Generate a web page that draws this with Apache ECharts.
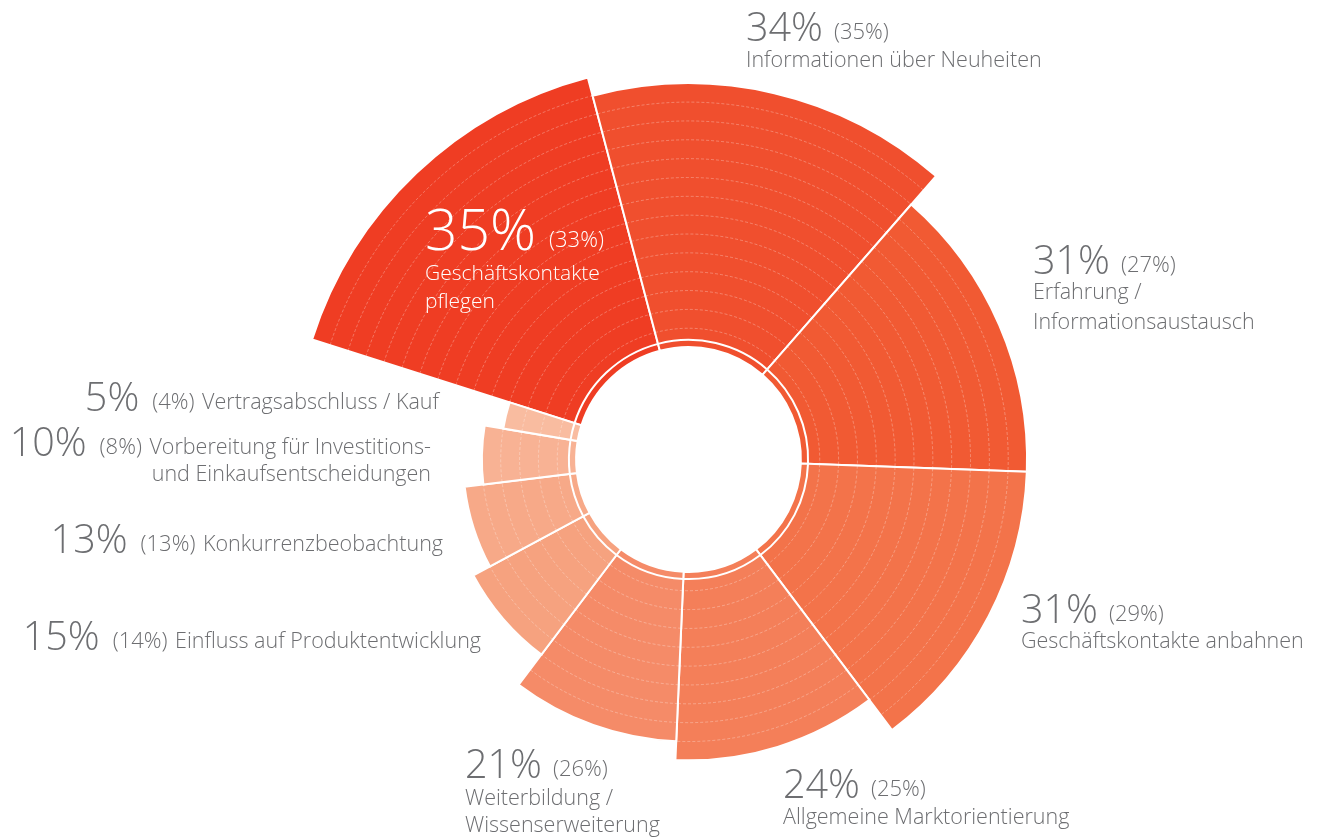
<!DOCTYPE html>
<html>
<head>
<meta charset="utf-8">
<script src="https://cdn.jsdelivr.net/npm/echarts@6/dist/echarts.min.js"></script>
<style>html,body{margin:0;padding:0;background:#fff}#c{width:1319px;height:837px}</style>
</head>
<body>
<div id="c"></div>
<script>
// ---------- data ----------
const categories = [
  'Geschäftskontakte pflegen',
  'Informationen über Neuheiten',
  'Erfahrung / Informationsaustausch',
  'Geschäftskontakte anbahnen',
  'Allgemeine Marktorientierung',
  'Weiterbildung / Wissenserweiterung',
  'Einfluss auf Produktentwicklung',
  'Konkurrenzbeobachtung',
  'Vorbereitung für Investitions- und Einkaufsentscheidungen',
  'Vertragsabschluss / Kauf'
];
const values = [35, 34, 31, 31, 24, 21, 15, 13, 10, 5];
const previousValues = [33, 35, 27, 29, 25, 26, 14, 13, 8, 4];
const radiusLevels = [15, 14, 12, 12, 10, 9, 7, 6, 5, 4];
const labelLines = [
  ['Geschäftskontakte', 'pflegen'],
  ['Informationen über Neuheiten'],
  ['Erfahrung /', 'Informationsaustausch'],
  ['Geschäftskontakte anbahnen'],
  ['Allgemeine Marktorientierung'],
  ['Weiterbildung /', 'Wissenserweiterung'],
  ['Einfluss auf Produktentwicklung'],
  ['Konkurrenzbeobachtung'],
  ['Vorbereitung für Investitions-', 'und Einkaufsentscheidungen'],
  ['Vertragsabschluss / Kauf']
];
const colors = ['#EF3D23', '#F04F2E', '#F15A33', '#F3734A', '#F47F59',
                '#F58B68', '#F6A27F', '#F7A988', '#F8B294', '#F9BCA0'];

// ---------- helpers ----------
const total = values.reduce((a, b) => a + b, 0);
const cum = [];
values.reduce((acc, v, i) => { cum[i] = acc; return acc + v; }, 0);
const maxLevel = Math.max(...radiusLevels);

const FAMILY = "'Open Sans', sans-serif";
const GREY = '#6d6e71';
const mctx = document.createElement('canvas').getContext('2d');
function fontStr(size) { return '300 ' + size + 'px ' + FAMILY; }
function measure(t, size) { mctx.font = fontStr(size); return mctx.measureText(t).width; }
const MID = 0.22;
function txt(t, x, baseline, size, color, align) {
  return {
    type: 'text', x: x, y: baseline - MID * size, silent: true, z: 100,
    style: { text: t, font: fontStr(size), fill: color, align: align || 'left', verticalAlign: 'middle' }
  };
}

// label layout (positions only)
const layout = [
  { x: 425, y: 246, big: 57, color: '#fff', gap: 13, lab: 21, lines: [279, 307] },
  { x: 746, y: 38, lines: [66] },
  { x: 1033, y: 271, lines: [298, 328] },
  { x: 1021, y: 620, lines: [647] },
  { x: 783, y: 795, lines: [823] },
  { x: 465, y: 775, lines: [804, 831] },
  { right: 481, y: 647, inline: true },
  { right: 443, y: 550, inline: true },
  { right: 431, y: 453, inline: true, lines: [480] },
  { right: 439, y: 408, inline: true }
];

const graphics = [];
layout.forEach((L, i) => {
  const big = L.big || 39.5, small = L.small || 22, lab = L.lab || 21.5;
  const color = L.color || GREY;
  const gap = L.gap || (L.inline ? 13 : 11), gap2 = 7.5;
  const pct = values[i] + '%';
  const prev = '(' + previousValues[i] + '%)';
  if (!L.inline) {
    graphics.push(txt(pct, L.x, L.y, big, color));
    graphics.push(txt(prev, L.x + measure(pct, big) + gap, L.y, small, color));
    labelLines[i].forEach((ln, k) => graphics.push(txt(ln, L.x, L.lines[k], lab, color)));
  } else {
    const first = labelLines[i][0];
    const wl = measure(first, lab), wp = measure(prev, small), wb = measure(pct, big);
    const xl = L.right - wl;
    const xp = xl - gap2 - wp;
    const xb = xp - gap - wb;
    graphics.push(txt(pct, xb, L.y, big, color));
    graphics.push(txt(prev, xp, L.y, small, color));
    graphics.push(txt(first, xl, L.y, lab, color));
    if (labelLines[i][1]) graphics.push(txt(labelLines[i][1], L.right, L.lines[0], lab, color, 'right'));
  }
});

// ---------- chart ----------
const chart = echarts.init(document.getElementById('c'), null, { renderer: 'canvas' });
chart.setOption({
  animation: false,
  backgroundColor: '#fff',
  polar: { center: [688.5, 459.5], radius: [112.4, 395.1] },
  angleAxis: {
    type: 'value', min: 0, max: total, startAngle: 162.3, clockwise: true,
    axisLine: { show: false }, axisTick: { show: false }, axisLabel: { show: false }, splitLine: { show: false }
  },
  radiusAxis: {
    type: 'value', min: 0, max: maxLevel,
    axisLine: { show: false }, axisTick: { show: false }, axisLabel: { show: false }, splitLine: { show: false }
  },
  series: [{
    type: 'custom',
    coordinateSystem: 'polar',
    silent: true,
    z: 2,
    data: values.map((v, i) => [radiusLevels[i], cum[i], cum[i] + v, i]),
    encode: { radius: 0, angle: 1 },
    renderItem: function (params, api) {
      const cs = params.coordSys;
      const cx = cs.cx, cy = cs.cy;
      const lv = api.value(0), a0 = api.value(1), a1 = api.value(2), idx = api.value(3);
      const p0 = api.coord([lv, a0]);
      const p1 = api.coord([lv, a1]);
      let s = Math.atan2(p0[1] - cy, p0[0] - cx);
      let e = Math.atan2(p1[1] - cy, p1[0] - cx);
      while (e <= s) e += Math.PI * 2;
      const rOut = Math.hypot(p0[0] - cx, p0[1] - cy);
      const r0 = cs.r0;
      const children = [{
        type: 'sector',
        shape: { cx: cx, cy: cy, r0: r0, r: rOut, startAngle: s, endAngle: e, clockwise: true },
        style: { fill: colors[idx], stroke: '#fff', lineWidth: 2 }
      }];
      for (let k = 1; k < lv; k++) {
        const pk = api.coord([k, a0]);
        const rk = Math.hypot(pk[0] - cx, pk[1] - cy);
        children.push({
          type: 'arc',
          shape: { cx: cx, cy: cy, r: rk, startAngle: s, endAngle: e, clockwise: true },
          style: { fill: null, stroke: 'rgba(255,255,255,0.36)', lineWidth: 0.8, lineDash: [3, 2] }
        });
      }
      children.push({
        type: 'arc',
        shape: { cx: cx, cy: cy, r: r0 + 7.2, startAngle: s, endAngle: e, clockwise: true },
        style: { fill: null, stroke: '#fff', lineWidth: 2 }
      });
      return { type: 'group', children: children };
    }
  }],
  graphic: { elements: graphics }
});
</script>
</body>
</html>
